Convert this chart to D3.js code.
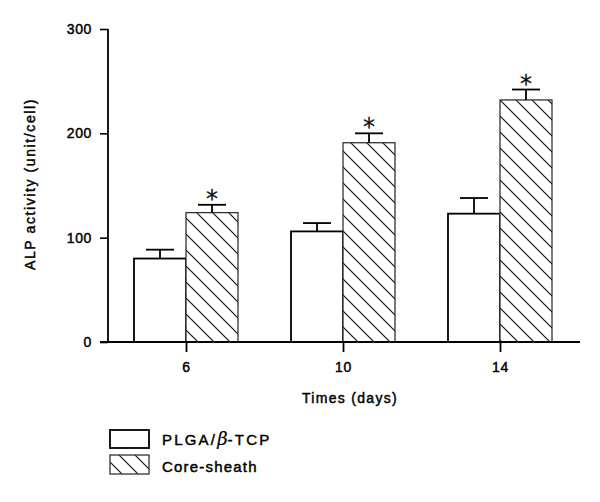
<!DOCTYPE html>
<html><head><meta charset="utf-8">
<script src="https://cdn.jsdelivr.net/npm/d3@7"></script>
<style>body{margin:0;background:#fff}svg{display:block}text{font-family:Arial,"Liberation Sans",sans-serif;fill:#000}
.lbl{stroke:#000;stroke-width:0.45px;paint-order:stroke}</style>
</head><body>
<svg id="c" width="600" height="502"></svg>
<script>
const days = ["6","10","14"];
const seriesNames = ["PLGA/β-TCP","Core-sheath"];
const plgaMean = [80,106,123];
const plgaErr = [8.5,8,15];
const coreMean = [124,191,232];
const coreErr = [7.5,9,10];
const significant = [true,true,true];
const yTicks = [0,100,200,300];

const svg = d3.select("#c");
const defs = svg.append("defs");
const pat = defs.append("pattern").attr("id","hatch").attr("patternUnits","userSpaceOnUse")
  .attr("width",16).attr("height",16);
pat.append("rect").attr("width",16).attr("height",16).attr("fill","#fff");
pat.append("path").attr("d","M-4,-4 L20,20 M-4,12 L4,20 M12,-4 L20,4").attr("stroke","#111").attr("stroke-width",1.2);

const y = d3.scaleLinear().domain([0,300]).range([342,29]);
const x = d3.scalePoint().domain(days).range([186,500]);
const bw = 52;
const x0 = 108, xEnd = 580;

// y axis
const ya = svg.append("g").attr("transform",`translate(${x0},0)`)
  .call(d3.axisLeft(y).tickValues(yTicks).tickSize(8).tickPadding(8));
ya.select(".domain").remove();
ya.selectAll(".tick line").attr("stroke","#000").attr("stroke-width",1.6);
ya.selectAll(".tick text").attr("class","lbl").style("font-size","14px").attr("letter-spacing","0.6px").attr("fill","#000");
svg.append("line").attr("x1",x0).attr("x2",x0).attr("y1",y(300)).attr("y2",y(0)).attr("stroke","#000").attr("stroke-width",1.8);

const data = days.map((d,i)=>({d,i}));
svg.selectAll(".pb").data(data).join("rect")
  .attr("x",d=>x(d.d)-bw).attr("width",bw)
  .attr("y",d=>y(plgaMean[d.i])).attr("height",d=>y(0)-y(plgaMean[d.i]))
  .attr("fill","#fff").attr("stroke","#000").attr("stroke-width",1.8);
svg.selectAll(".cb").data(data).join("rect")
  .attr("x",d=>x(d.d)).attr("width",bw)
  .attr("y",d=>y(coreMean[d.i])).attr("height",d=>y(0)-y(coreMean[d.i]))
  .attr("fill","url(#hatch)").attr("stroke","#333").attr("stroke-width",1.3);

function errBars(means, errs, off){
  const g = svg.append("g").attr("stroke","#000").attr("stroke-width",1.8);
  data.forEach(d=>{
    const cx = x(d.d)+off;
    g.append("line").attr("x1",cx).attr("x2",cx).attr("y1",y(means[d.i])).attr("y2",y(means[d.i]+errs[d.i]));
    g.append("line").attr("x1",cx-14).attr("x2",cx+14).attr("y1",y(means[d.i]+errs[d.i])).attr("y2",y(means[d.i]+errs[d.i]));
  });
}
errBars(plgaMean,plgaErr,-bw/2);
errBars(coreMean,coreErr,bw/2);

svg.selectAll(".star").data(data.filter(d=>significant[d.i])).join("text")
  .attr("x",d=>x(d.d)+bw/2).attr("y",d=>y(coreMean[d.i]+coreErr[d.i])+2)
  .attr("text-anchor","middle").style("font-size","24px").style("font-family","'DejaVu Sans',sans-serif")
  .attr("fill","#444").attr("stroke","#444").attr("stroke-width",0.3).text("*");

// x axis
svg.append("line").attr("x1",x0-8).attr("x2",xEnd).attr("y1",y(0)).attr("y2",y(0)).attr("stroke","#000").attr("stroke-width",1.8);
const xa = svg.append("g").attr("transform",`translate(0,${y(0)})`)
  .call(d3.axisBottom(x).tickSize(10).tickPadding(10));
xa.select(".domain").remove();
xa.selectAll(".tick line").attr("stroke","#000").attr("stroke-width",1.8);
xa.selectAll(".tick text").attr("class","lbl").style("font-size","14px").attr("letter-spacing","0.6px").attr("fill","#000");

svg.append("text").attr("class","lbl").attr("x",350).attr("y",403).attr("text-anchor","middle")
  .style("font-size","14px").attr("letter-spacing","1.3px").text("Times (days)");
svg.append("text").attr("class","lbl").attr("transform","translate(35,184) rotate(-90)").attr("text-anchor","middle")
  .style("font-size","14px").attr("letter-spacing","1.6px").text("ALP activity (unit/cell)");

// legend
const lg = svg.append("g");
lg.append("rect").attr("x",110).attr("y",430).attr("width",39).attr("height",18).attr("fill","#fff").attr("stroke","#000").attr("stroke-width",1.8);
lg.append("rect").attr("x",110).attr("y",455).attr("width",39).attr("height",19).attr("fill","url(#hatch)").attr("stroke","#333").attr("stroke-width",1.3);
const t1 = lg.append("text").attr("class","lbl").attr("x",162).attr("y",445).style("font-size","15px").attr("letter-spacing","2.2px");
t1.append("tspan").text("PLGA/");
t1.append("tspan").style("font-family","'DejaVu Serif','Liberation Serif',serif").style("font-style","italic").style("stroke-width","0.2px").style("font-size","18px").attr("letter-spacing","0px").text("β");
t1.append("tspan").text("-TCP");
lg.append("text").attr("class","lbl").attr("x",162).attr("y",472).style("font-size","15px").attr("letter-spacing","1.2px").text(seriesNames[1]);
</script>
</body></html>
